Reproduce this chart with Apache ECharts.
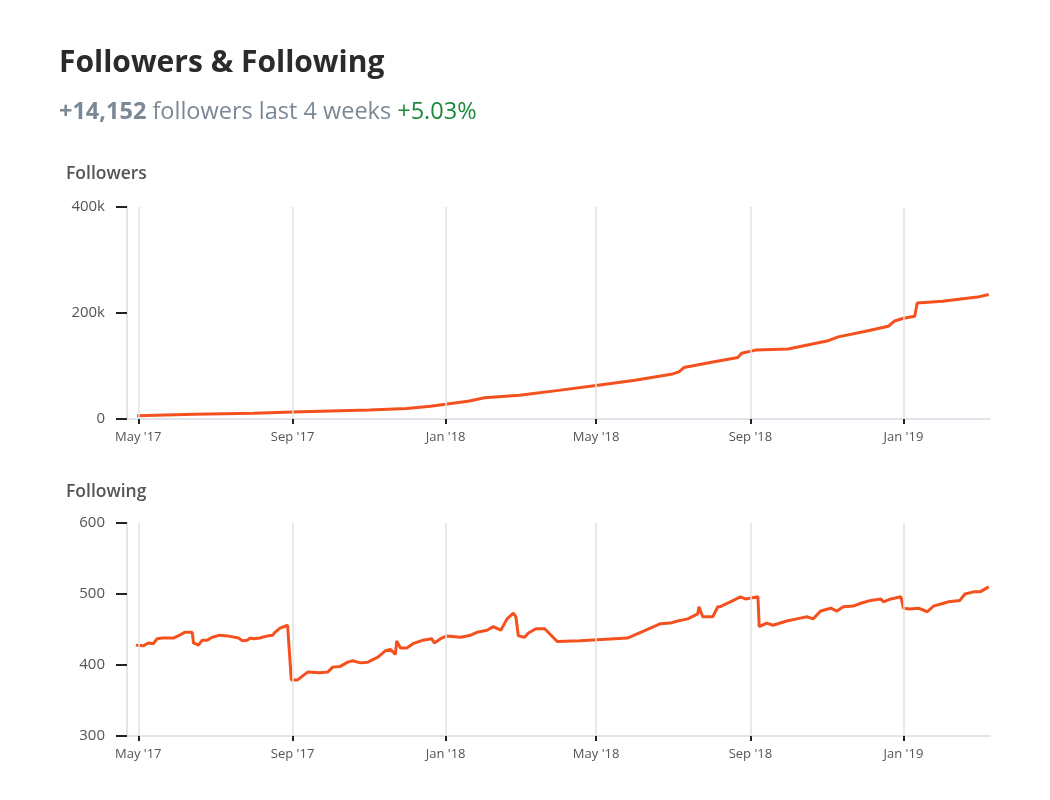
<!DOCTYPE html>
<html>
<head>
<meta charset="utf-8">
<script src="https://cdn.jsdelivr.net/npm/echarts@6/dist/echarts.min.js"></script>
<style>
  html, body { margin: 0; padding: 0; background: #fff; }
  #chart { width: 1050px; height: 800px; }
</style>
</head>
<body>
<div id="chart"></div>
<script>
// 数据
const followersDates = [
  '2017-04-30', '2017-06-15', '2017-08-01', '2017-09-01', '2017-10-01', '2017-11-01',
  '2017-12-01', '2017-12-20', '2018-01-01', '2018-01-20', '2018-02-01', '2018-03-01',
  '2018-04-01', '2018-05-01', '2018-06-01', '2018-07-01', '2018-07-06', '2018-07-10',
  '2018-08-01', '2018-08-22', '2018-08-25', '2018-09-05', '2018-10-01', '2018-11-01',
  '2018-11-10', '2018-12-01', '2018-12-20', '2018-12-25', '2019-01-01', '2019-01-10',
  '2019-01-12', '2019-02-01', '2019-03-01', '2019-03-10'
]
const followersValues = [
  6000, 9000, 11000, 13000, 15000, 17000,
  20000, 24000, 28000, 34000, 40000, 45000,
  54000, 63000, 73000, 85000, 89000, 97000,
  107000, 116000, 124000, 130000, 132000, 147000,
  155000, 165000, 175000, 185000, 190000, 194000,
  219000, 222000, 230000, 235000
]
const followingDates = [
  '2017-04-29', '2017-05-05', '2017-05-09', '2017-05-13', '2017-05-16', '2017-05-20',
  '2017-05-29', '2017-06-03', '2017-06-07', '2017-06-13', '2017-06-14', '2017-06-18',
  '2017-06-21', '2017-06-25', '2017-06-29', '2017-07-05', '2017-07-11', '2017-07-20',
  '2017-07-23', '2017-07-27', '2017-07-29', '2017-08-01', '2017-08-06', '2017-08-12',
  '2017-08-16', '2017-08-18', '2017-08-22', '2017-08-28', '2017-08-29', '2017-08-31',
  '2017-09-05', '2017-09-13', '2017-09-23', '2017-09-29', '2017-10-03', '2017-10-09',
  '2017-10-15', '2017-10-19', '2017-10-25', '2017-10-31', '2017-11-08', '2017-11-14',
  '2017-11-18', '2017-11-22', '2017-11-23', '2017-11-26', '2017-12-01', '2017-12-06',
  '2017-12-14', '2017-12-21', '2017-12-23', '2017-12-28', '2018-01-02', '2018-01-13',
  '2018-01-21', '2018-01-26', '2018-02-03', '2018-02-08', '2018-02-14', '2018-02-19',
  '2018-02-24', '2018-02-26', '2018-02-28', '2018-03-05', '2018-03-08', '2018-03-14',
  '2018-03-21', '2018-03-31', '2018-04-18', '2018-05-26', '2018-06-21', '2018-06-29',
  '2018-07-05', '2018-07-13', '2018-07-21', '2018-07-22', '2018-07-25', '2018-08-02',
  '2018-08-06', '2018-08-08', '2018-08-10', '2018-08-16', '2018-08-24', '2018-08-28',
  '2018-09-07', '2018-09-08', '2018-09-14', '2018-09-19', '2018-09-30', '2018-10-08',
  '2018-10-16', '2018-10-21', '2018-10-27', '2018-11-04', '2018-11-09', '2018-11-14',
  '2018-11-22', '2018-11-28', '2018-12-06', '2018-12-14', '2018-12-16', '2018-12-22',
  '2018-12-30', '2018-12-31', '2019-01-01', '2019-01-06', '2019-01-13', '2019-01-20',
  '2019-01-25', '2019-02-02', '2019-02-06', '2019-02-15', '2019-02-19', '2019-02-26',
  '2019-03-03', '2019-03-10'
]
const followingValues = [
  428, 427, 431, 430, 437, 438,
  438, 442, 446, 446, 431, 428,
  435, 435, 439, 442, 441, 438,
  434, 435, 438, 437, 438, 441,
  442, 446, 452, 456, 458, 379,
  379, 390, 389, 390, 397, 398,
  404, 406, 403, 404, 411, 420,
  422, 415, 434, 424, 424, 430,
  435, 437, 431, 437, 441, 439,
  442, 446, 449, 454, 449, 465,
  473, 468, 441, 439, 445, 451,
  451, 433, 434, 438, 458, 459,
  462, 465, 472, 482, 468, 468,
  482, 482, 484, 489, 496, 493,
  496, 454, 459, 456, 462, 465,
  468, 465, 476, 480, 476, 482,
  483, 487, 491, 493, 489, 493,
  496, 497, 480, 479, 480, 475,
  483, 487, 489, 491, 500, 503,
  503, 510
]
const tickDates = ['2017-05-01', '2017-09-01', '2018-01-01', '2018-05-01', '2018-09-01', '2019-01-01']
const monthNames = ['Jan', 'Feb', 'Mar', 'Apr', 'May', 'Jun', 'Jul', 'Aug', 'Sep', 'Oct', 'Nov', 'Dec']

const font = '"Open Sans", Lato, sans-serif'
const lineColor = '#f4511e'

function toTime(s) {
  const p = s.split('-')
  return new Date(+p[0], +p[1] - 1, +p[2]).getTime()
}
const tickValues = tickDates.map(toTime)
const xMin = toTime('2017-04-22')
const xMax = toTime('2019-03-11')

function pairs(dates, values) {
  return dates.map((d, i) => [toTime(d), values[i]])
}

function xAxis(gridIndex) {
  return {
    type: 'value',
    gridIndex,
    min: xMin,
    max: xMax,
    axisLine: { show: true, lineStyle: { color: '#dfe5eb', width: 2 } },
    axisTick: { show: true, customValues: tickValues, length: 5, lineStyle: { color: '#222', width: 2 } },
    axisLabel: {
      customValues: tickValues,
      margin: 12,
      color: '#555',
      fontFamily: font,
      fontSize: 13,
      formatter: (v) => {
        const d = new Date(v)
        return monthNames[d.getMonth()] + " '" + String(d.getFullYear()).slice(2)
      }
    },
    splitLine: { show: false }
  }
}

function yAxis(gridIndex, min, max, interval, fmt) {
  return {
    type: 'value',
    gridIndex,
    min,
    max,
    interval,
    axisLine: { show: true, lineStyle: { color: '#dfe5eb', width: 2 } },
    axisTick: { show: true, length: 11, lineStyle: { color: '#222', width: 2 } },
    axisLabel: { margin: 22, color: '#555', fontFamily: font, fontSize: 15, formatter: fmt },
    splitLine: { show: false }
  }
}

function gridLines() {
  return {
    silent: true,
    symbol: 'none',
    label: { show: false },
    lineStyle: { color: '#e2e2e2', width: 1.5, type: 'solid' },
    data: tickValues.map((t) => ({ xAxis: t }))
  }
}

const chart = echarts.init(document.getElementById('chart'), null, { renderer: 'canvas' })
chart.setOption({
  backgroundColor: '#fff',
  animation: false,
  graphic: [
    {
      type: 'text', x: 59, y: 63,
      style: { text: 'Followers & Following', fontFamily: font, fontSize: 30, fontWeight: 'bold', fill: '#2b2b2b', verticalAlign: 'middle' }
    },
    {
      type: 'text', x: 59, y: 112,
      style: {
        text: '{a|+14,152 }{b|followers last 4 weeks }{c|+5.03%}',
        verticalAlign: 'middle',
        rich: {
          a: { fontFamily: font, fontSize: 23.5, fontWeight: 'bold', fill: '#7b8896' },
          b: { fontFamily: font, fontSize: 23.5, fill: '#7b8896' },
          c: { fontFamily: font, fontSize: 23.5, fill: '#1b8a3c' }
        }
      }
    },
    {
      type: 'text', x: 66, y: 174,
      style: { text: 'Followers', fontFamily: font, fontSize: 17.5, fontWeight: 600, fill: '#555', verticalAlign: 'middle' }
    },
    {
      type: 'text', x: 66, y: 492,
      style: { text: 'Following', fontFamily: font, fontSize: 17.5, fontWeight: 600, fill: '#555', verticalAlign: 'middle' }
    }
  ],
  grid: [
    { left: 127, right: 60, top: 207, height: 212 },
    { left: 127, right: 60, top: 523, height: 213 }
  ],
  xAxis: [xAxis(0), xAxis(1)],
  yAxis: [
    yAxis(0, 0, 400000, 200000, (v) => (v === 0 ? '0' : v / 1000 + 'k')),
    yAxis(1, 300, 600, 100, (v) => String(v))
  ],
  series: [
    {
      name: 'Followers', type: 'line', xAxisIndex: 0, yAxisIndex: 0,
      data: pairs(followersDates, followersValues),
      showSymbol: false, lineStyle: { color: lineColor, width: 3 },
      markLine: gridLines(), z: 3
    },
    {
      name: 'Following', type: 'line', xAxisIndex: 1, yAxisIndex: 1,
      data: pairs(followingDates, followingValues),
      showSymbol: false, lineStyle: { color: lineColor, width: 3 },
      markLine: gridLines(), z: 3
    }
  ]
})
</script>
</body>
</html>
